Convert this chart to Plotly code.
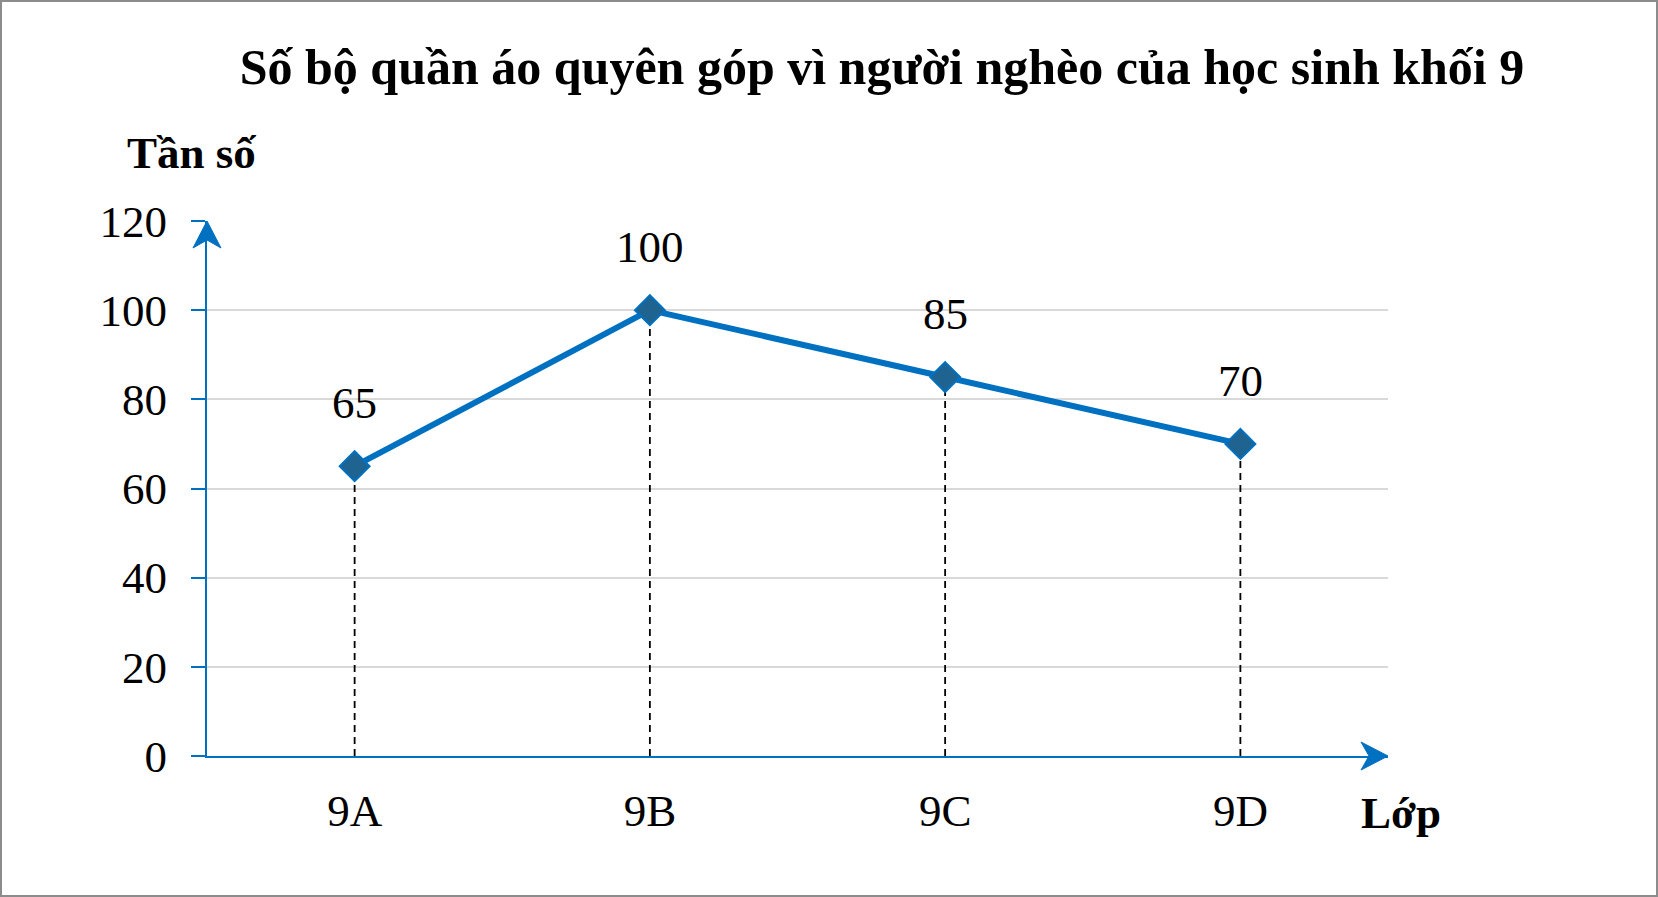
import plotly.graph_objects as go

categories = ["9A", "9B", "9C", "9D"]
values = [65, 100, 85, 70]
y_ticks = [0, 20, 40, 60, 80, 100, 120]

title_text = "Số bộ quần áo quyên góp vì người nghèo của học sinh khối 9"
y_title = "Tần số"
x_title = "Lớp"

BLUE = "#0070C0"
FONT = "Liberation Serif, Times New Roman, serif"
FS = 45
W, H = 1658, 897
L, R, T, B = 207, 270, 221, 141
PW, PH = W - L - R, H - T - B

fig = go.Figure()

# drop lines
dx, dy = [], []
for c, v in zip(categories, values):
    dx += [c, c, None]
    dy += [0, v, None]
fig.add_trace(go.Scatter(x=dx, y=dy, mode="lines",
                         line=dict(color="black", width=1.8, dash="7px,5px"),
                         hoverinfo="skip", showlegend=False))

fig.add_trace(go.Scatter(x=categories, y=values, mode="lines+markers",
                         line=dict(color=BLUE, width=6),
                         marker=dict(symbol="diamond", size=23, color="#1f6391",
                                     line=dict(color=BLUE, width=2)),
                         showlegend=False))

annotations = []
for c, v in zip(categories, values):
    annotations.append(dict(x=c, y=v, xref="x", yref="y", text=str(v), showarrow=False,
                            yshift=63, xanchor="center", yanchor="middle",
                            font=dict(family=FONT, size=FS, color="black")))

def px(xp):
    return (xp - L) / PW

def py(yp):
    return (H - B - yp) / PH

annotations.append(dict(x=px(125), y=py(153), xref="paper", yref="paper", text="<b>" + y_title + "</b>",
                        showarrow=False, xanchor="left", yanchor="middle",
                        font=dict(family=FONT, size=FS, color="black")))
annotations.append(dict(x=px(1359), y=py(813), xref="paper", yref="paper", text="<b>" + x_title + "</b>",
                        showarrow=False, xanchor="left", yanchor="middle",
                        font=dict(family=FONT, size=FS, color="black")))

shapes = [
    dict(type="rect", xref="paper", yref="paper",
         x0=px(1), x1=px(W - 1), y0=py(H - 1), y1=py(1),
         line=dict(color="#8c8c8c", width=2), fillcolor="rgba(0,0,0,0)", layer="above"),
    # x-axis arrowhead
    dict(type="path", xref="paper", yref="paper", xsizemode="pixel", ysizemode="pixel",
         xanchor=1, yanchor=0, path="M 0,0 L -27,14 L -19,0 L -27,-14 Z",
         fillcolor=BLUE, line=dict(color=BLUE, width=1), layer="above"),
    # y-axis arrowhead
    dict(type="path", xref="paper", yref="paper", xsizemode="pixel", ysizemode="pixel",
         xanchor=0, yanchor=1, path="M 0,0 L -14,-27 L 0,-19 L 14,-27 Z",
         fillcolor=BLUE, line=dict(color=BLUE, width=1), layer="above"),
]

fig.update_layout(
    width=W, height=H,
    margin=dict(l=L, r=R, t=T, b=B, pad=0),
    paper_bgcolor="white", plot_bgcolor="white",
    title=dict(text="<b>" + title_text + "</b>", x=882 / W, xanchor="center",
               y=1 - 66 / H, yanchor="middle", xref="container", yref="container",
               font=dict(family=FONT, size=50, color="black")),
    xaxis=dict(type="category", categoryorder="array", categoryarray=categories,
               range=[-0.5, 3.5], showgrid=False, zeroline=False,
               showline=True, linecolor=BLUE, linewidth=2, ticks="",
               tickfont=dict(family=FONT, size=FS, color="black"),
               ticklabelstandoff=14),
    yaxis=dict(range=[0, 120], tickvals=y_ticks, showgrid=True, gridcolor="#d9d9d9",
               gridwidth=1.5, zeroline=False, showline=True, linecolor=BLUE, linewidth=2,
               ticks="outside", ticklen=14, tickcolor=BLUE, tickwidth=2,
               tickfont=dict(family=FONT, size=FS, color="black"),
               ticklabelstandoff=15),
    annotations=annotations,
    shapes=shapes,
    showlegend=False,
)

fig.write_html("out.html")
